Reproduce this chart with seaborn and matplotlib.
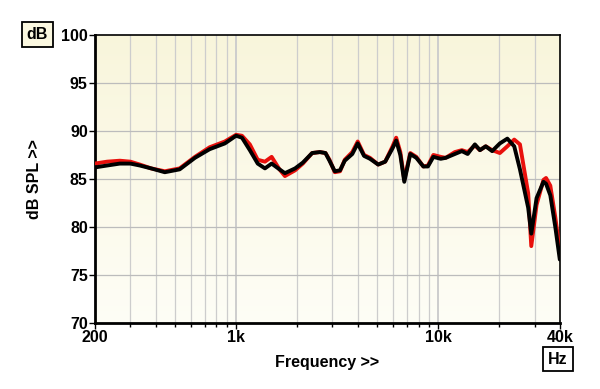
import numpy as np
import pandas as pd
import seaborn as sns
import matplotlib.pyplot as plt
from matplotlib.ticker import FixedLocator, NullFormatter

# frequency response (Hz, dB SPL)
freq = [200, 230, 266, 300, 334, 380, 444, 526, 626, 740, 880, 1000, 1070, 1170,
        1280, 1390, 1500, 1640, 1745, 1960, 2140, 2380, 2600, 2770, 2900, 3080,
        3270, 3450, 3760, 4000, 4300, 4600, 5050, 5470, 5950, 6200, 6500, 6800,
        7280, 7800, 8450, 8900, 9470, 10300, 10900, 12100, 13100, 14000, 15200,
        16100, 17200, 18500, 20200, 22000, 23800, 25400, 27900, 28900, 30700,
        33200, 34200, 35900, 38000, 40000]

black_db = [86.2, 86.4, 86.6, 86.6, 86.4, 86.1, 85.7, 86.0, 87.2, 88.1, 88.7, 89.5,
            89.3, 88.0, 86.6, 86.1, 86.6, 86.0, 85.6, 86.1, 86.7, 87.7, 87.8, 87.7,
            86.9, 85.8, 85.9, 86.9, 87.6, 88.7, 87.4, 87.1, 86.5, 86.8, 88.2, 89.0,
            87.5, 84.7, 87.6, 87.2, 86.3, 86.3, 87.3, 87.1, 87.2, 87.6, 87.9, 87.6,
            88.6, 88.0, 88.4, 87.9, 88.7, 89.2, 88.4, 86.0, 82.0, 79.3, 83.0, 84.7,
            84.5, 83.3, 80.0, 76.6]

red_db = [86.6, 86.8, 86.9, 86.8, 86.5, 86.1, 85.8, 86.1, 87.3, 88.3, 88.9, 89.6,
          89.5, 88.6, 87.0, 86.8, 87.3, 86.0, 85.3, 85.9, 86.6, 87.7, 87.8, 87.7,
          87.0, 85.7, 85.8, 87.0, 87.8, 88.9, 87.5, 87.2, 86.5, 86.8, 88.4, 89.3,
          87.8, 84.9, 87.7, 87.3, 86.3, 86.4, 87.5, 87.3, 87.2, 87.8, 88.0, 87.8,
          88.5, 88.0, 88.4, 88.0, 87.7, 88.4, 89.1, 88.6, 83.5, 78.0, 82.3, 84.9,
          85.1, 84.3, 81.0, 77.5]

y_ticks = [70, 75, 80, 85, 90, 95, 100]
x_labels = {200: "200", 1000: "1k", 10000: "10k", 40000: "40k"}

df = pd.concat([
    pd.DataFrame({"freq": freq, "db": red_db, "trace": "red"}),
    pd.DataFrame({"freq": freq, "db": black_db, "trace": "black"}),
])

fig = plt.figure(figsize=(6, 3.89), dpi=100)
ax = fig.add_axes([0.158, 0.170, 0.775, 0.740])

# pale yellow gradient background
grad = np.linspace(0, 1, 256).reshape(-1, 1)
top = np.array([0.975, 0.962, 0.860])
bottom = np.array([0.996, 0.994, 0.965])
img = bottom + (top - bottom) * grad
ax.imshow(img[:, None, :].repeat(2, axis=1), extent=[0, 1, 0, 1],
          transform=ax.transAxes, origin="lower", aspect="auto", zorder=0)

sns.lineplot(data=df, x="freq", y="db", hue="trace", hue_order=["red", "black"],
             palette={"red": "#e8100c", "black": "#000000"}, linewidth=2.8,
             legend=False, sort=False, ax=ax, zorder=3)
for ln in ax.get_lines():
    ln.set_solid_joinstyle("round")
    ln.set_solid_capstyle("round")

ax.set_xscale("log")
ax.set_xlim(200, 40000)
ax.set_ylim(70, 100)

minor = [300, 400, 500, 600, 700, 800, 900, 2000, 3000, 4000, 5000, 6000,
         7000, 8000, 9000, 20000, 30000]
ax.xaxis.set_major_locator(FixedLocator(list(x_labels)))
ax.set_xticklabels(list(x_labels.values()))
ax.xaxis.set_minor_locator(FixedLocator(minor))
ax.xaxis.set_minor_formatter(NullFormatter())
ax.set_yticks(y_ticks)

for f in minor + [1000, 10000]:
    ax.axvline(f, color="#cdcdcd", lw=1.4 if f in (1000, 10000) else 0.9, zorder=1)
for v in y_ticks[1:-1]:
    ax.axhline(v, color="#bcbcbc", lw=0.9, zorder=1)

ax.tick_params(axis="both", which="major", length=4, width=1, labelsize=11.5, pad=1)
ax.tick_params(axis="x", which="minor", length=3, width=1)
for lab in ax.get_xticklabels() + ax.get_yticklabels():
    lab.set_fontweight("bold")
    lab.set_family("Liberation Sans")

for side in ["left", "bottom"]:
    ax.spines[side].set_linewidth(2)
for side in ["top", "right"]:
    ax.spines[side].set_linewidth(1.2)

ax.set_xlabel("Frequency >>", fontsize=11.5, fontweight="bold", family="Liberation Sans", labelpad=7)
ax.set_ylabel("dB SPL >>", fontsize=11.5, fontweight="bold", family="Liberation Sans", labelpad=14)

box = dict(boxstyle="square,pad=0.3", facecolor="#fbf8e0", edgecolor="black", lw=1.3)
fig.text(0.062, 0.911, "dB", fontsize=11.5, fontweight="bold", family="Liberation Sans",
         ha="center", va="center", bbox=box)
fig.text(0.930, 0.077, "Hz", fontsize=11.5, fontweight="bold", family="Liberation Sans",
         ha="center", va="center", bbox=dict(box, facecolor="white"))

fig.savefig("out.png", dpi=100)
